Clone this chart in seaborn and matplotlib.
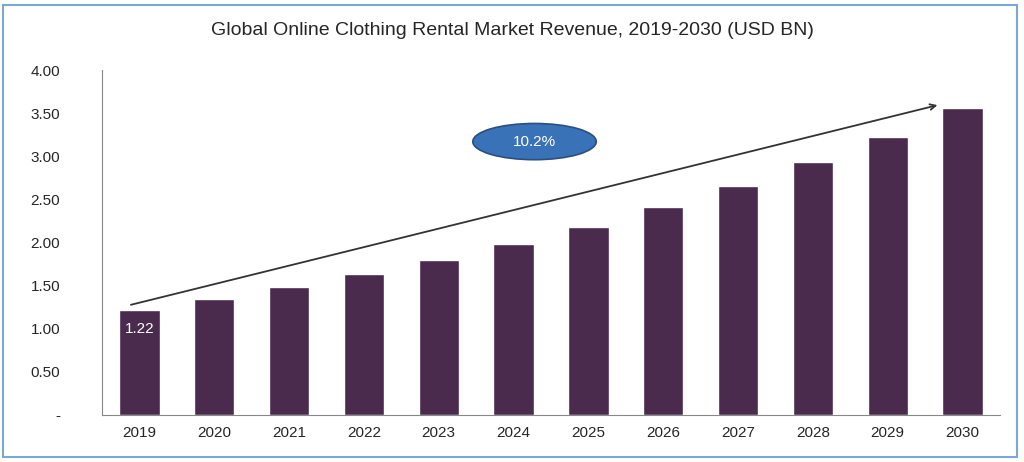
import seaborn as sb
import matplotlib.pyplot as plt
from matplotlib.patches import Ellipse, Rectangle

# Data
years = ['2019', '2020', '2021', '2022', '2023', '2024', '2025', '2026', '2027', '2028', '2029', '2030']
revenue = [1.22, 1.34, 1.48, 1.63, 1.80, 1.98, 2.18, 2.41, 2.66, 2.93, 3.22, 3.56]
yticks = [0, 0.5, 1.0, 1.5, 2.0, 2.5, 3.0, 3.5, 4.0]
ylabels = ['-', '0.50', '1.00', '1.50', '2.00', '2.50', '3.00', '3.50', '4.00']

sb.set_style('white')
plt.rcParams['font.family'] = ['Liberation Sans', 'DejaVu Sans']

fig = plt.figure(figsize=(10.24, 4.62), dpi=100)
ax = fig.add_axes([102 / 1024, 47 / 462, 898 / 1024, 345 / 462])

sb.barplot(x=years, y=revenue, color='#4a2a4d', saturation=1, width=0.54, ax=ax)

ax.set_xlim(-0.5, 11.5)
ax.set_ylim(0, 4.0)
ax.set_yticks(yticks)
ax.set_yticklabels(ylabels, fontsize=11)
ax.tick_params(axis='x', labelsize=11, length=0, pad=8)
ax.tick_params(axis='y', length=0, pad=30)
for s in ['top', 'right']:
    ax.spines[s].set_visible(False)
ax.spines['left'].set_color('#888888')
ax.spines['bottom'].set_color('#888888')

# first value label
ax.text(0, 1.0, '1.22', color='white', ha='center', va='center', fontsize=11)

# growth arrow
ax.annotate('', xy=(10.7, 3.6), xytext=(-0.15, 1.27),
            arrowprops=dict(arrowstyle='->', color='#333333', lw=1.3))

# CAGR ellipse
ax.add_patch(Ellipse((5.28, 3.17), 1.65, 0.42, facecolor='#3a72b8', edgecolor='#2a4f80', lw=1.2, zorder=5))
ax.text(5.28, 3.17, '10.2%', color='white', ha='center', va='center', fontsize=11, zorder=6)

fig.text(0.5, 0.935, 'Global Online Clothing Rental Market Revenue, 2019-2030 (USD BN)',
         ha='center', va='center', fontsize=14)

# outer frame
fig.patches.append(Rectangle((0.003, 0.01), 0.99, 0.98, transform=fig.transFigure,
                             fill=False, edgecolor='#7aa7d6', lw=1.5))

fig.savefig('out.png', dpi=100)
